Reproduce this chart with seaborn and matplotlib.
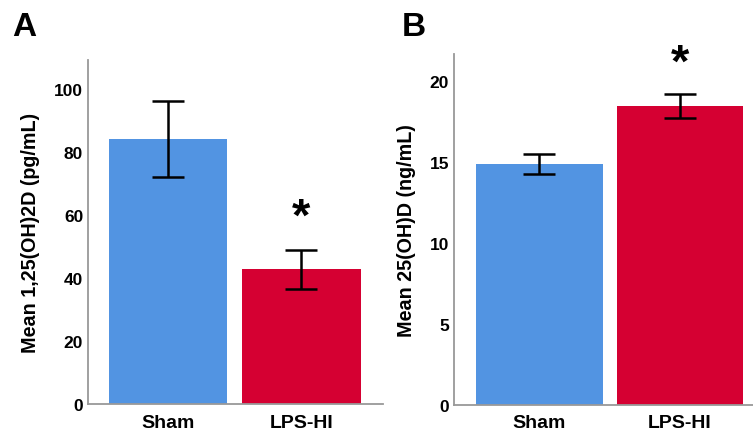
import matplotlib
matplotlib.use("Agg")
import matplotlib.pyplot as plt
import seaborn as sns
import pandas as pd

groups = ["Sham", "LPS-HI"]
mean_a = [84.2, 42.7]
err_a = [12.0, 6.2]
mean_b = [14.85, 18.45]
err_b = [0.62, 0.73]
colors = ["#5294E2", "#D50032"]
ylabel_a = "Mean 1,25(OH)2D (pg/mL)"
ylabel_b = "Mean 25(OH)D (ng/mL)"
ticks_a = [0, 20, 40, 60, 80, 100]
ticks_b = [0, 5, 10, 15, 20]

sns.set_theme(style="white")
plt.rcParams["font.family"] = ["Liberation Sans", "DejaVu Sans"]
plt.rcParams["text.color"] = "black"
plt.rcParams["xtick.color"] = "black"
plt.rcParams["ytick.color"] = "black"
plt.rcParams["axes.labelcolor"] = "black"

fig = plt.figure(figsize=(7.53, 4.35), dpi=100)
ax_a = fig.add_axes([88/753, 1-405/435, (383-88)/753, (405-61)/435])
ax_b = fig.add_axes([454/753, 1-405.7/435, (753-454)/753, (405.7-55)/435])


def panel(ax, means, errs, ylim, xlim, ticks, ylabel, width, star_y, letter, letter_x):
    df = pd.DataFrame({"group": groups, "value": means})
    sns.barplot(data=df, x="group", y="value", hue="group", palette=colors,
                width=width, errorbar=None, legend=False, ax=ax, saturation=1,
                edgecolor="none")
    ax.errorbar(range(len(groups)), means, yerr=errs, fmt="none", ecolor="black",
                elinewidth=1.8, capsize=11.5, capthick=1.8)
    ax.set_ylim(*ylim)
    ax.set_xlim(*xlim)
    ax.set_yticks(ticks)
    ax.set_yticklabels([str(t) for t in ticks], fontsize=12.5, fontweight="bold")
    ax.set_xticks(range(len(groups)))
    ax.set_xticklabels(groups, fontsize=14, fontweight="bold")
    ax.set_xlabel("")
    ax.set_ylabel(ylabel, fontsize=14.2, fontweight="bold", labelpad=10)
    ax.tick_params(axis="y", length=0, pad=3.5)
    ax.tick_params(axis="x", length=0, pad=7)
    for s in ["top", "right"]:
        ax.spines[s].set_visible(False)
    for s in ["left", "bottom"]:
        ax.spines[s].set_color("#999999")
        ax.spines[s].set_linewidth(1.3)
    ax.text(1, star_y, "*", ha="center", va="center", fontsize=34,
            fontweight="bold", color="black")
    fig.text(letter_x, 1-27/435, letter, fontsize=24, fontweight="bold",
             ha="left", va="center")


panel(ax_a, mean_a, err_a, (0, 109.2), (-0.6, 1.612), ticks_a, ylabel_a, 0.89,
      59.0, "A", 12/753)
panel(ax_b, mean_b, err_b, (0, 21.65), (-0.61, 1.524), ticks_b, ylabel_b, 0.9,
      21.05, "B", 402/753)

fig.savefig("out.png", dpi=100)
